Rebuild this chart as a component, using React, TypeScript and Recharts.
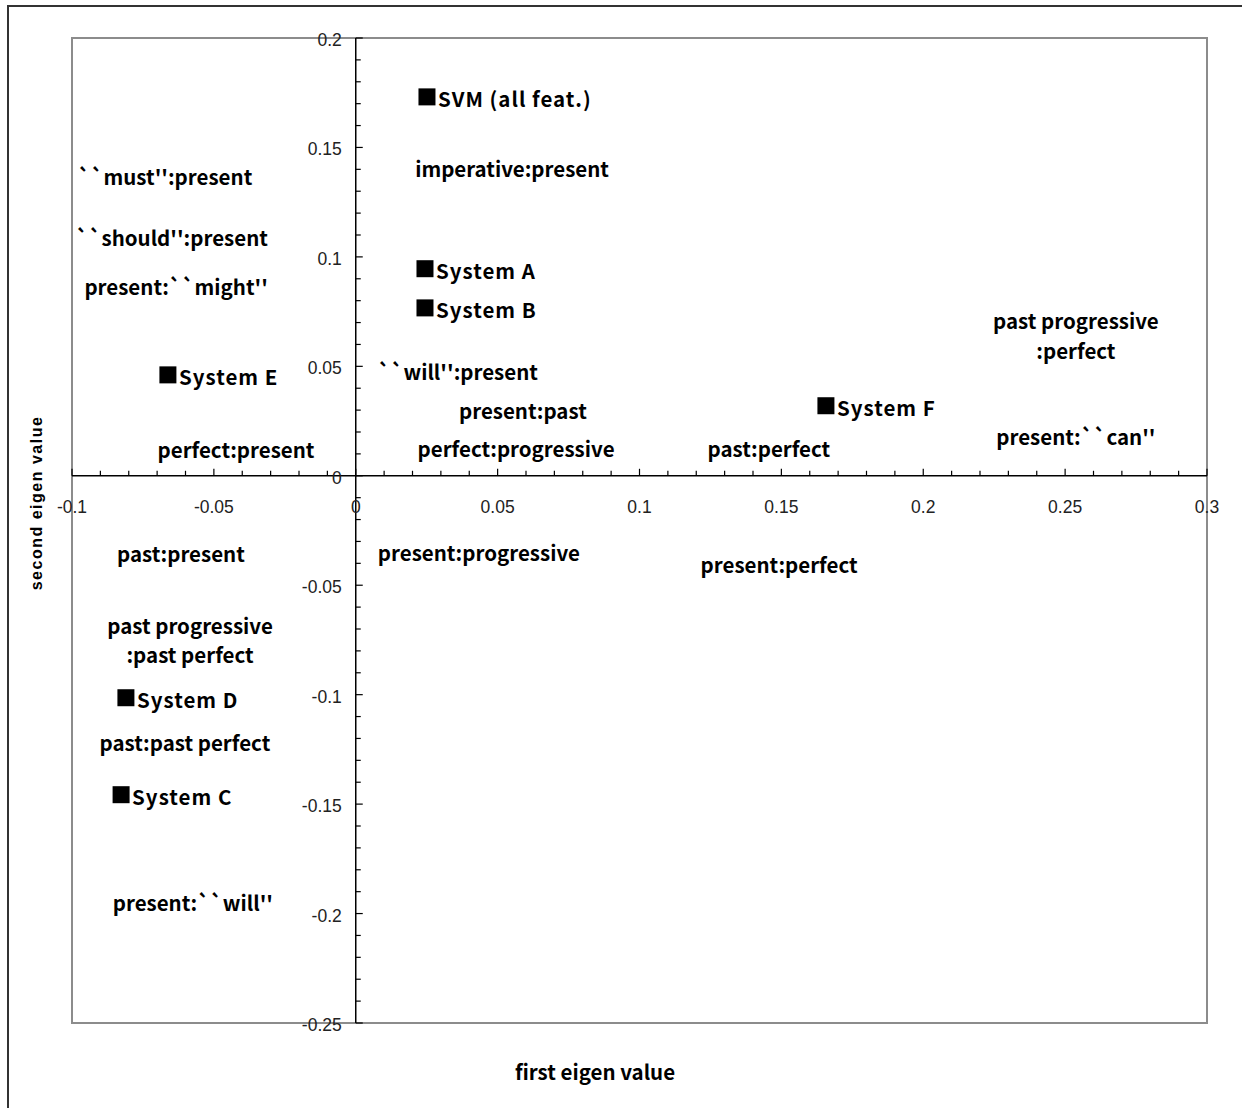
import React from 'react';
import { ScatterChart, Scatter, XAxis, YAxis, ReferenceLine, ReferenceArea } from 'recharts';

// systems (drawn with a black square marker, label to the right)
const systemNames = ['SVM (all feat.)', 'System A', 'System B', 'System E', 'System F', 'System D', 'System C'];
const systemX = [0.0251, 0.0244, 0.0244, -0.0662, 0.1657, -0.081, -0.0827];
const systemY = [0.1731, 0.0946, 0.0767, 0.0461, 0.032, -0.1014, -0.1457];

// feature pairs (text only, centred on the point)
const featureNames = [
  'imperative:present',
  "``must'':present",
  "``should'':present",
  "present:``might''",
  'past progressive\n:perfect',
  "``will'':present",
  'present:past',
  'perfect:progressive',
  'perfect:present',
  'past:perfect',
  "present:``can''",
  'past:present',
  'present:progressive',
  'present:perfect',
  'past progressive\n:past perfect',
  'past:past perfect',
  "present:``will''",
];
const featureX = [0.0551, -0.0672, -0.0648, -0.0633, 0.2538, 0.036, 0.0589, 0.0565, -0.0422, 0.1456, 0.2538, -0.0616, 0.0434, 0.1492, -0.0584, -0.0602, -0.0574];
const featureY = [0.1407, 0.137, 0.1092, 0.0868, 0.0644, 0.048, 0.0302, 0.0128, 0.0123, 0.0128, 0.0183, -0.0352, -0.0347, -0.0402, -0.0749, -0.1215, -0.1946];

const xTicks = [-0.1, -0.05, 0, 0.05, 0.1, 0.15, 0.2, 0.25, 0.3];
const xTickLabels = ['-0.1', '-0.05', '0', '0.05', '0.1', '0.15', '0.2', '0.25', '0.3'];
const yTicks = [0.2, 0.15, 0.1, 0.05, 0, -0.05, -0.1, -0.15, -0.2, -0.25];
const yTickLabels = ['0.2', '0.15', '0.1', '0.05', '0', '-0.05', '-0.1', '-0.15', '-0.2', '-0.25'];

const W = 1242;
const H = 1108;
const labelFont = "'Noto Sans CJK JP', sans-serif";
const tickFont = "'Liberation Sans', Arial, sans-serif";
const labelSize = 20.5;

const systems = systemNames.map((name, i) => ({ name, x: systemX[i], y: systemY[i] }));
const features = featureNames.map((name, i) => ({ name, x: featureX[i], y: featureY[i] }));

// major ticks carry a label, minor ticks every 0.01 between them
const xTickData: { x: number; y: number; label?: string }[] = [];
xTicks.forEach((t, i) => {
  xTickData.push({ x: t, y: 0, label: xTickLabels[i] });
  if (i < xTicks.length - 1) {
    for (let k = 1; k < 5; k++) xTickData.push({ x: +(t + k * 0.01).toFixed(3), y: 0 });
  }
});
const yTickData: { x: number; y: number; label?: string }[] = [];
yTicks.forEach((t, i) => {
  yTickData.push({ x: 0, y: t, label: yTickLabels[i] });
  if (i < yTicks.length - 1) {
    for (let k = 1; k < 5; k++) yTickData.push({ x: 0, y: +(t - k * 0.01).toFixed(3) });
  }
});

const XTick = (props: any) => {
  const { cx, cy, payload } = props;
  const major = payload.label !== undefined;
  return (
    <g>
      <line x1={cx} y1={cy} x2={cx} y2={cy - (major ? 7 : 5)} stroke="#000" strokeWidth={1.2} />
      {major && (
        <text x={cx} y={cy + 31} textAnchor="middle" dominantBaseline="central" fontFamily={tickFont} fontSize={17.5} fill="#222">
          {payload.label}
        </text>
      )}
    </g>
  );
};

const YTick = (props: any) => {
  const { cx, cy, payload } = props;
  const major = payload.label !== undefined;
  return (
    <g>
      <line x1={cx} y1={cy} x2={cx + (major ? 7 : 5)} y2={cy} stroke="#000" strokeWidth={1.2} />
      {major && (
        <text x={cx - 14} y={cy + 2} textAnchor="end" dominantBaseline="central" fontFamily={tickFont} fontSize={17.5} fill="#222">
          {payload.label}
        </text>
      )}
    </g>
  );
};

const SystemMark = (props: any) => {
  const { cx, cy, payload } = props;
  return (
    <g>
      <rect x={cx - 8.5} y={cy - 8.5} width={17} height={17} fill="#000" />
      <text x={cx + 11} y={cy + 1} dominantBaseline="central" fontFamily={labelFont} fontWeight={700} fontSize={labelSize} letterSpacing={1} fill="#000">
        {payload.name}
      </text>
    </g>
  );
};

const FeatureMark = (props: any) => {
  const { cx, cy, payload } = props;
  const lines: string[] = payload.name.split('\n');
  const top = cy - ((lines.length - 1) * 29.5) / 2;
  return (
    <text textAnchor="middle" fontFamily={labelFont} fontWeight={700} fontSize={labelSize} fill="#000">
      {lines.map((l, i) => (
        <tspan key={i} x={cx} y={top + i * 29.5} dominantBaseline="central">
          {l}
        </tspan>
      ))}
    </text>
  );
};

export default function App() {
  return (
    <div style={{ position: 'absolute', left: 0, top: 0, width: W, height: H, overflow: 'hidden', background: '#fff' }}>
      <div
        style={{
          position: 'absolute',
          left: 7,
          top: 5,
          width: W + 50,
          height: H + 50,
          borderLeft: '2px solid #333',
          borderTop: '2px solid #333',
        }}
      />
      <div style={{ position: 'absolute', left: 0, top: 0 }}>
        <ScatterChart width={W} height={H} margin={{ top: 38, right: 35, bottom: 85, left: 72 }}>
          <XAxis type="number" dataKey="x" domain={[-0.1, 0.3]} hide />
          <YAxis type="number" dataKey="y" domain={[-0.25, 0.2]} hide />
          <ReferenceArea x1={-0.1} x2={0.3} y1={-0.25} y2={0.2} fill="none" stroke="#8c8c8c" strokeWidth={2} />
          <ReferenceLine y={0} stroke="#000" strokeWidth={1.5} />
          <ReferenceLine x={0} stroke="#000" strokeWidth={1.5} />
          <Scatter data={xTickData} shape={XTick} isAnimationActive={false} />
          <Scatter data={yTickData} shape={YTick} isAnimationActive={false} />
          <Scatter data={systems} shape={SystemMark} isAnimationActive={false} />
          <Scatter data={features} shape={FeatureMark} isAnimationActive={false} />
        </ScatterChart>
      </div>
      <svg width={W} height={H} style={{ position: 'absolute', left: 0, top: 0, pointerEvents: 'none' }}>
        <text x={595} y={1071} textAnchor="middle" dominantBaseline="central" fontFamily={labelFont} fontWeight={700} fontSize={labelSize}>
          first eigen value
        </text>
        <text
          x={36}
          y={503}
          transform="rotate(-90 36 503)"
          textAnchor="middle"
          dominantBaseline="central"
          fontFamily={tickFont}
          fontWeight={700}
          fontSize={16}
          letterSpacing={1.5}
        >
          second eigen value
        </text>
      </svg>
    </div>
  );
}
